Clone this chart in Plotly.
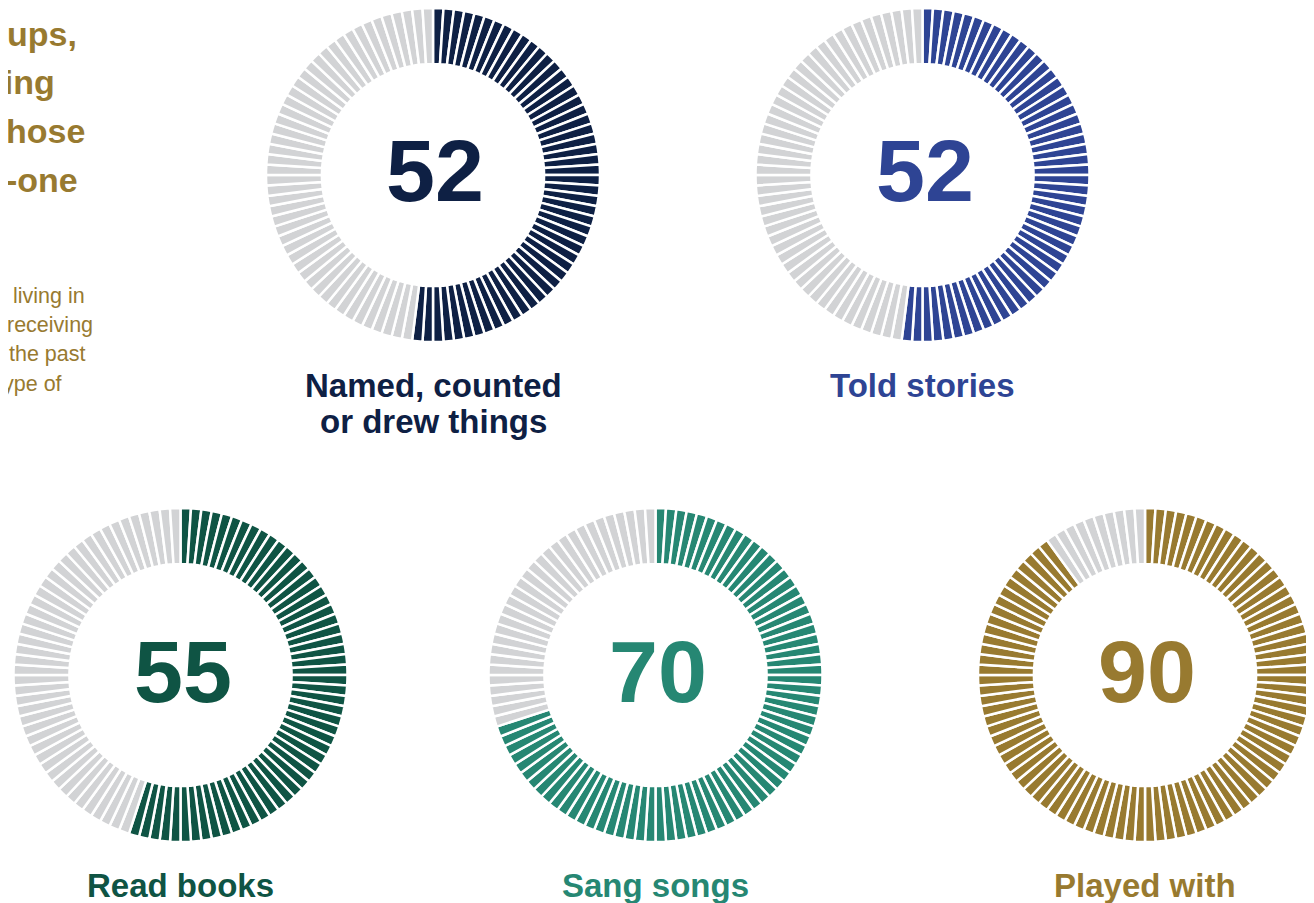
import plotly.graph_objects as go

# Page is rendered with an 8px body margin; figure is sized to fit the window
OFF = 8
W, H = 1314 - OFF, 903 - OFF

# Data
activities = ["Named, counted", "Told stories", "Read books", "Sang songs", "Played with"]
activities_line2 = ["or drew things", "", "", "", ""]
percentages = [52, 52, 55, 70, 90]
series_colors = ["#0E2044", "#2E4494", "#0F5444", "#268773", "#987A30"]
rest_color = "#D2D3D5"
title_fragments = ["ups,", "ging", "hose", "-one"]
subtitle_fragments = ["living in", "receiving", "the past", "ype of"]

# Layout: pixel centres of each donut in the page
centers = [(433, 175), (922.5, 175), (180.5, 675), (655.5, 675), (1145, 675)]
R = 167
gold = "#987A30"


def px(x):
    return (x - OFF) / W


def py(y):
    return 1 - (y - OFF) / H


fig = go.Figure()

for pct, col, (cx, cy), name, name2 in zip(percentages, series_colors, centers,
                                            activities, activities_line2):
    n = 100
    colors = [col if i < pct else rest_color for i in range(n)]
    fig.add_trace(go.Pie(
        labels=[f"{name}-{i}" for i in range(n)],
        values=[1] * n,
        sort=False,
        direction="clockwise",
        rotation=0,
        hole=0.665,
        marker=dict(colors=colors, line=dict(color="white", width=2.5)),
        textinfo="none",
        hoverinfo="skip",
        showlegend=False,
        domain=dict(x=[px(cx - R), px(cx + R)], y=[py(cy + R), py(cy - R)]),
    ))
    # number in centre
    fig.add_annotation(
        x=px(cx + 2), y=py(cy - 4), xref="paper", yref="paper",
        text=f"<b>{pct}</b>", showarrow=False, xanchor="center", yanchor="middle",
        font=dict(family="Liberation Sans", size=88, color=col),
    )
    # label lines
    fig.add_annotation(
        x=px(cx), y=py(cy + 210), xref="paper", yref="paper",
        text=f"<b>{name}</b>", showarrow=False, xanchor="center", yanchor="middle",
        font=dict(family="Liberation Sans", size=33, color=col),
    )
    if name2:
        fig.add_annotation(
            x=px(cx), y=py(cy + 246), xref="paper", yref="paper",
            text=f"<b>{name2}</b>", showarrow=False, xanchor="center", yanchor="middle",
            font=dict(family="Liberation Sans", size=33, color=col),
        )

# Title fragments (the start of the title lies beyond the left edge)
title_right = [79, 57, 87, 80]
for i, (t, xr) in enumerate(zip(title_fragments, title_right)):
    baseline = 45 + i * 48.5
    fig.add_annotation(
        x=px(xr), y=py(baseline - 11), xref="paper", yref="paper",
        text=f"<b>{t}</b>", showarrow=False, xanchor="right", yanchor="middle",
        font=dict(family="Liberation Sans", size=34, color=gold),
    )

sub_right = [87, 95, 88, 64]
for i, (t, xr) in enumerate(zip(subtitle_fragments, sub_right)):
    baseline = 303 + i * 29.2
    fig.add_annotation(
        x=px(xr), y=py(baseline - 7), xref="paper", yref="paper",
        text=t, showarrow=False, xanchor="right", yanchor="middle",
        font=dict(family="Liberation Sans", size=21.5, color=gold),
    )

fig.update_layout(
    width=W, height=H,
    margin=dict(l=0, r=0, t=0, b=0),
    paper_bgcolor="white", plot_bgcolor="white",
)

fig.write_html("out.html")
